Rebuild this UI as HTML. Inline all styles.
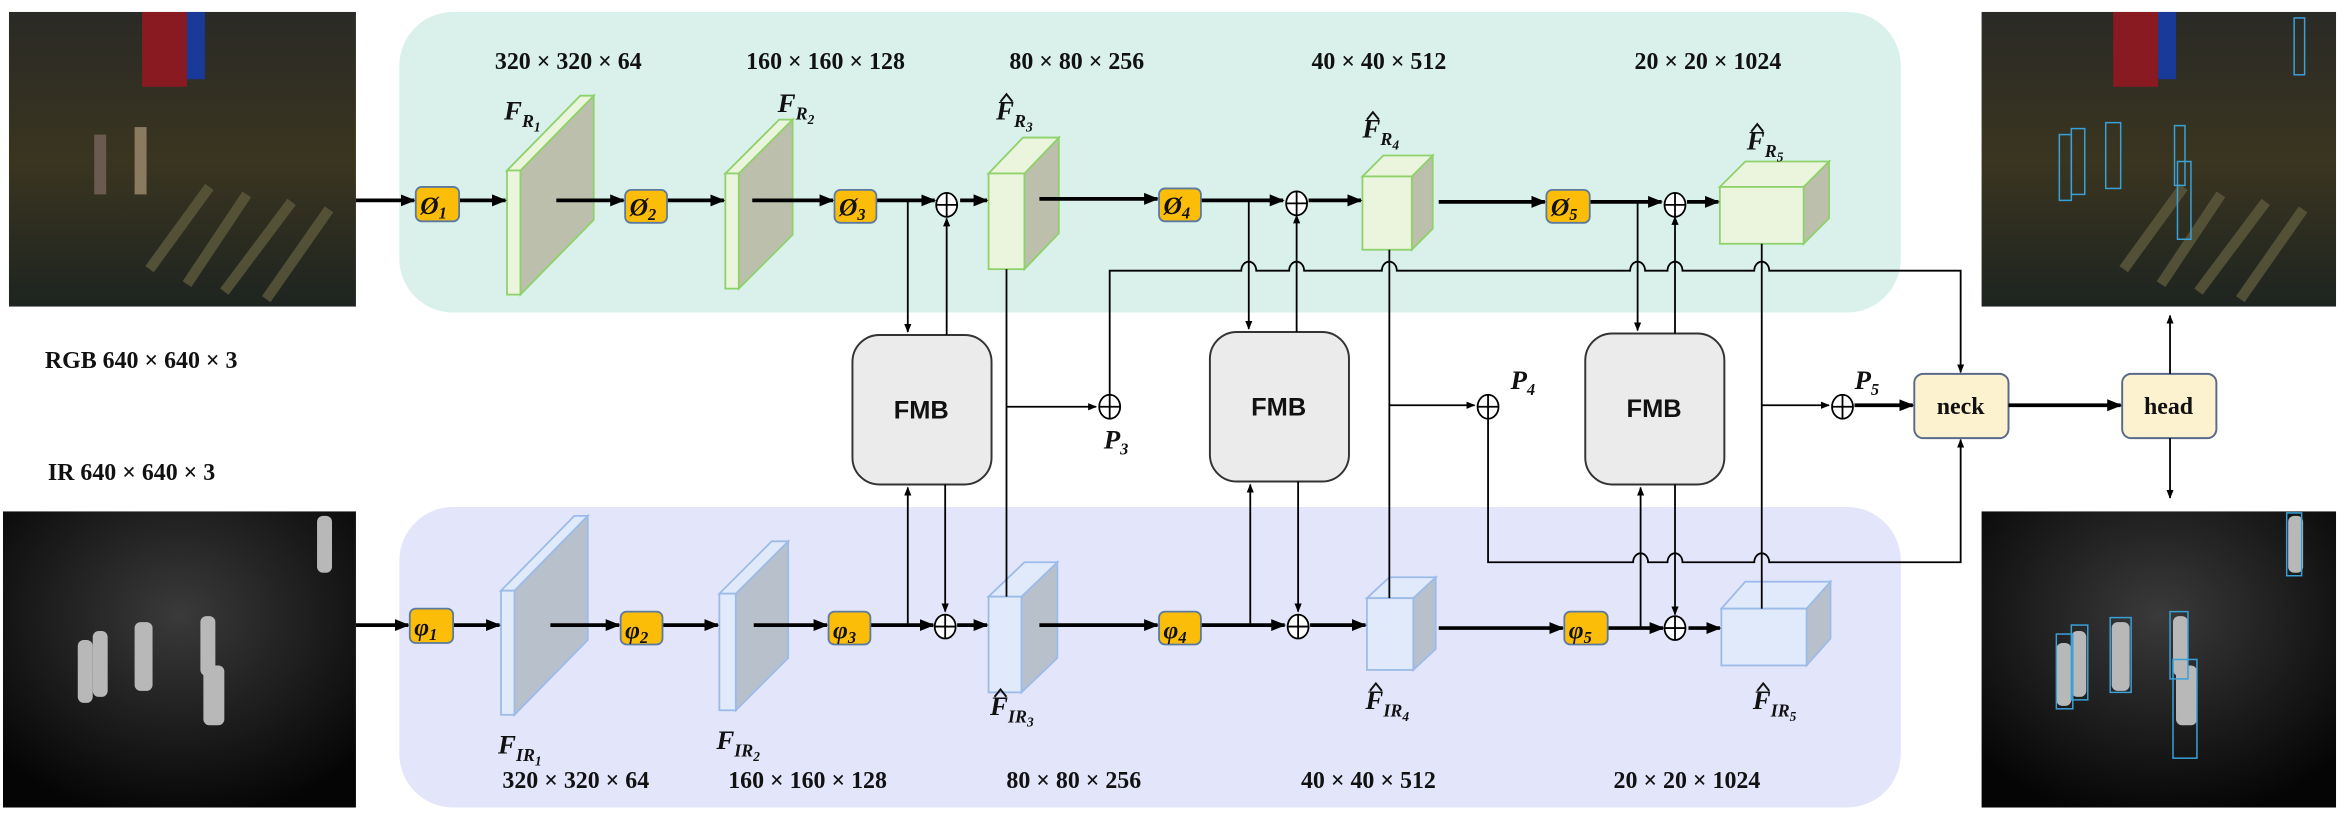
<!DOCTYPE html>
<html><head><meta charset="utf-8"><style>
html,body{margin:0;padding:0;background:#fff;}
svg{display:block;}
.t{font-family:"Liberation Serif",serif;font-weight:bold;font-size:16px;fill:#111;}
.i{font-family:"Liberation Serif",serif;font-weight:bold;font-style:italic;fill:#111;}
.f{font-family:"Liberation Sans",sans-serif;font-weight:bold;font-size:17px;fill:#111;}
</style></head><body>
<svg width="2345" height="828" viewBox="0 0 1568 553.7" preserveAspectRatio="none" xmlns="http://www.w3.org/2000/svg">
<defs>
<marker id="a" viewBox="0 0 10 10" refX="9" refY="5" markerWidth="5" markerHeight="5" orient="auto"><path d="M0,1 L10,5 L0,9 z" fill="#000"/></marker>
<marker id="b" viewBox="0 0 10 10" refX="9" refY="5" markerWidth="4" markerHeight="4" orient="auto"><path d="M0,1 L10,5 L0,9 z" fill="#000"/></marker>
<linearGradient id="rg" x1="0" y1="0" x2="0" y2="1"><stop offset="0" stop-color="#2a2a26"/><stop offset="0.5" stop-color="#3a3520"/><stop offset="1" stop-color="#1e2420"/></linearGradient>
<radialGradient id="ir" cx="0.5" cy="0.35" r="0.7"><stop offset="0" stop-color="#3a3a3a"/><stop offset="1" stop-color="#050505"/></radialGradient>
</defs>
<rect x="267" y="8" width="1004" height="201" rx="36" fill="#d9f1ea"/>
<rect x="267" y="339" width="1004" height="201" rx="36" fill="#e3e6fa"/>

<g>
<rect x="6" y="8" width="232" height="197" fill="url(#rg)"/>
<rect x="95" y="8" width="30" height="50" fill="#8a1a22"/><rect x="125" y="8" width="12" height="45" fill="#1a3a9a"/>
<g stroke="#5d5a3c" stroke-width="7" opacity="0.8"><line x1="100" y1="180" x2="140" y2="125"/><line x1="125" y1="190" x2="165" y2="130"/><line x1="150" y1="195" x2="195" y2="135"/><line x1="178" y1="200" x2="220" y2="140"/></g>
<rect x="63" y="90" width="8" height="40" fill="#6a5a50"/><rect x="90" y="85" width="8" height="45" fill="#8a7a60"/>
</g>
<g>
<rect x="1325" y="8" width="237" height="197" fill="url(#rg)"/>
<rect x="1413" y="8" width="30" height="50" fill="#8a1a22"/><rect x="1443" y="8" width="12" height="45" fill="#1a3a9a"/>
<g stroke="#5d5a3c" stroke-width="7" opacity="0.8"><line x1="1420" y1="180" x2="1460" y2="125"/><line x1="1445" y1="190" x2="1485" y2="130"/><line x1="1470" y1="195" x2="1515" y2="135"/><line x1="1498" y1="200" x2="1540" y2="140"/></g>
<g fill="none" stroke="#3aa0d8" stroke-width="1"><rect x="1377" y="90" width="8" height="44"/><rect x="1385" y="86" width="9" height="44"/><rect x="1408" y="82" width="10" height="44"/><rect x="1454" y="84" width="7" height="40"/><rect x="1456" y="108" width="9" height="52"/><rect x="1534" y="12" width="7" height="38"/></g>
</g>
<g>
<rect x="2" y="342" width="236" height="198" fill="url(#ir)"/>
<g fill="#b8b8b8"><rect x="52" y="428" width="10" height="42" rx="4"/><rect x="62" y="422" width="10" height="44" rx="4"/><rect x="90" y="416" width="12" height="46" rx="4"/><rect x="134" y="412" width="10" height="40" rx="4"/><rect x="136" y="445" width="14" height="40" rx="4"/><rect x="212" y="345" width="10" height="38" rx="4"/></g>
</g>
<g>
<rect x="1325" y="342" width="237" height="198" fill="url(#ir)"/>
<g fill="#b8b8b8"><rect x="1375" y="430" width="10" height="42" rx="4"/><rect x="1385" y="422" width="10" height="44" rx="4"/><rect x="1412" y="416" width="12" height="46" rx="4"/><rect x="1453" y="412" width="10" height="40" rx="4"/><rect x="1455" y="445" width="14" height="40" rx="4"/><rect x="1530" y="345" width="10" height="38" rx="4"/></g>
<g fill="none" stroke="#3aa0d8" stroke-width="1"><rect x="1375" y="424" width="11" height="50"/><rect x="1385" y="418" width="11" height="50"/><rect x="1411" y="413" width="14" height="50"/><rect x="1451" y="409" width="12" height="45"/><rect x="1453" y="441" width="16" height="66"/><rect x="1529" y="343" width="10" height="42"/></g>
</g>

<g stroke="#8fd16a" stroke-width="1.2">
<polygon points="348,114 397,64 397,147 348,197" fill="#bdbfad"/><polygon points="339,114 348,114 397,64 388,64" fill="#ebf5dd"/><rect x="339" y="114" width="9" height="83" fill="#ebf5dd"/>
<polygon points="494,116 530,80 530,157 494,193" fill="#bdbfad"/><polygon points="485,116 494,116 530,80 521,80" fill="#ebf5dd"/><rect x="485" y="116" width="9" height="77" fill="#ebf5dd"/>
<polygon points="685,116 708,92 708,156 685,180" fill="#bdbfad"/><polygon points="661,116 685,116 708,92 684,92" fill="#ebf5dd"/><rect x="661" y="116" width="24" height="64" fill="#ebf5dd"/>
<polygon points="944,118 958,104 958,153 944,167" fill="#bdbfad"/><polygon points="911,118 944,118 958,104 925,104" fill="#ebf5dd"/><rect x="911" y="118" width="33" height="49" fill="#ebf5dd"/>
<polygon points="1206,125 1223,108 1223,146 1206,163" fill="#bdbfad"/><polygon points="1150,125 1206,125 1223,108 1167,108" fill="#ebf5dd"/><rect x="1150" y="125" width="56" height="38" fill="#ebf5dd"/>
</g>
<g stroke="#9cbbe9" stroke-width="1.2">
<polygon points="344,395 393,345 393,428 344,478" fill="#b8c0cc"/><polygon points="335,395 344,395 393,345 384,345" fill="#e0eafb"/><rect x="335" y="395" width="9" height="83" fill="#e0eafb"/>
<polygon points="492,397 527,362 527,440 492,475" fill="#b8c0cc"/><polygon points="481,397 492,397 527,362 516,362" fill="#e0eafb"/><rect x="481" y="397" width="11" height="78" fill="#e0eafb"/>
<polygon points="683,399 707,376 707,440 683,463" fill="#b8c0cc"/><polygon points="661,399 683,399 707,376 685,376" fill="#e0eafb"/><rect x="661" y="399" width="22" height="64" fill="#e0eafb"/>
<polygon points="945,400 960,386 960,434 945,448" fill="#b8c0cc"/><polygon points="914,400 945,400 960,386 929,386" fill="#e0eafb"/><rect x="914" y="400" width="31" height="48" fill="#e0eafb"/>
<polygon points="1208,407 1224,389 1224,427 1208,445" fill="#b8c0cc"/><polygon points="1151,407 1208,407 1224,389 1167,389" fill="#e0eafb"/><rect x="1151" y="407" width="57" height="38" fill="#e0eafb"/>
</g>

<text class="t" x="30" y="246" font-size="18">RGB 640 × 640 × 3</text>
<text class="t" x="32" y="321" font-size="18">IR 640 × 640 × 3</text>
<g class="t" text-anchor="middle">
<text x="380" y="46">320 × 320 × 64</text><text x="552" y="46">160 × 160 × 128</text><text x="720" y="46">80 × 80 × 256</text><text x="922" y="46">40 × 40 × 512</text><text x="1142" y="46">20 × 20 × 1024</text>
<text x="385" y="527">320 × 320 × 64</text><text x="540" y="527">160 × 160 × 128</text><text x="718" y="527">80 × 80 × 256</text><text x="915" y="527">40 × 40 × 512</text><text x="1128" y="527">20 × 20 × 1024</text>
</g>
<g class="i" font-size="18">
<text x="337" y="80">F<tspan font-size="12" dy="5">R<tspan font-size="9" dy="3">1</tspan></tspan></text>
<text x="520" y="75">F<tspan font-size="12" dy="5">R<tspan font-size="9" dy="3">2</tspan></tspan></text>
<text x="666" y="80">F<tspan font-size="12" dy="5">R<tspan font-size="9" dy="3">3</tspan></tspan></text>
<text x="911" y="92">F<tspan font-size="12" dy="5">R<tspan font-size="9" dy="3">4</tspan></tspan></text>
<text x="1168" y="100">F<tspan font-size="12" dy="5">R<tspan font-size="9" dy="3">5</tspan></tspan></text>
<text x="333" y="504">F<tspan font-size="12" dy="5">IR<tspan font-size="9" dy="3">1</tspan></tspan></text>
<text x="479" y="501">F<tspan font-size="12" dy="5">IR<tspan font-size="9" dy="3">2</tspan></tspan></text>
<text x="662" y="478">F<tspan font-size="12" dy="5">IR<tspan font-size="9" dy="3">3</tspan></tspan></text>
<text x="913" y="474">F<tspan font-size="12" dy="5">IR<tspan font-size="9" dy="3">4</tspan></tspan></text>
<text x="1172" y="474">F<tspan font-size="12" dy="5">IR<tspan font-size="9" dy="3">5</tspan></tspan></text>
<text x="738" y="300">P<tspan font-size="11" dy="4">3</tspan></text>
<text x="1010" y="260">P<tspan font-size="11" dy="4">4</tspan></text>
<text x="1240" y="260">P<tspan font-size="11" dy="4">5</tspan></text>
</g>
<g stroke="#111" stroke-width="1.3" fill="none">
<path d="M669 68 L673 63 L677 68"/><path d="M914 80 L918 75 L922 80"/><path d="M1171 88 L1175 83 L1179 88"/>
<path d="M665 466 L669 461 L673 466"/><path d="M916 462 L920 457 L924 462"/><path d="M1175 462 L1179 457 L1183 462"/>
</g>

<g stroke="#333" stroke-width="1.3" fill="#ebebeb">
<rect x="570" y="224" width="93" height="100" rx="18"/>
<rect x="809" y="222" width="93" height="100" rx="18"/>
<rect x="1060" y="223" width="93" height="101" rx="18"/>
</g>
<g class="f" text-anchor="middle"><text x="616" y="280">FMB</text><text x="855" y="278">FMB</text><text x="1106" y="279">FMB</text></g>
<g stroke="#5a6a8a" stroke-width="1.3" fill="#fdf2d0">
<rect x="1280" y="250" width="63" height="43" rx="6"/><rect x="1419" y="250" width="63" height="43" rx="6"/>
</g>
<g class="t" text-anchor="middle" font-size="17"><text x="1311" y="277">neck</text><text x="1450" y="277">head</text></g>

<g stroke="#000" stroke-width="2.5" fill="none" marker-end="url(#b)">
<line x1="238" y1="134" x2="277" y2="134"/><line x1="307" y1="134" x2="338" y2="134"/><line x1="372" y1="134" x2="417" y2="134"/>
<line x1="446" y1="134" x2="484" y2="134"/><line x1="503" y1="134" x2="557" y2="134"/>
<line x1="586" y1="134" x2="625" y2="134"/><line x1="642" y1="134" x2="660" y2="134"/>
<line x1="695" y1="133" x2="774" y2="133"/><line x1="803" y1="134" x2="858" y2="134"/><line x1="875" y1="134" x2="910" y2="134"/>
<line x1="962" y1="135" x2="1033" y2="135"/><line x1="1063" y1="135" x2="1111" y2="135"/><line x1="1128" y1="135" x2="1149" y2="135"/>
<line x1="238" y1="418" x2="273" y2="418"/><line x1="303" y1="418" x2="334" y2="418"/><line x1="368" y1="418" x2="414" y2="418"/>
<line x1="443" y1="418" x2="480" y2="418"/><line x1="504" y1="418" x2="553" y2="418"/>
<line x1="582" y1="418" x2="624" y2="418"/><line x1="640" y1="418" x2="660" y2="418"/>
<line x1="695" y1="418" x2="774" y2="418"/><line x1="803" y1="418" x2="859" y2="418"/><line x1="876" y1="418" x2="913" y2="418"/>
<line x1="962" y1="420" x2="1045" y2="420"/><line x1="1075" y1="420" x2="1112" y2="420"/><line x1="1129" y1="420" x2="1150" y2="420"/>
<line x1="1343" y1="271" x2="1418" y2="271"/><line x1="1240" y1="271" x2="1279" y2="271"/>
</g>

<g stroke="#5a7aa0" stroke-width="1.2" fill="#fbbd08">
<rect x="278" y="125" width="29" height="23" rx="4"/><rect x="418" y="127" width="28" height="22" rx="4"/><rect x="558" y="127" width="28" height="22" rx="4"/><rect x="775" y="126" width="28" height="22" rx="4"/><rect x="1034" y="127" width="29" height="22" rx="4"/>
<rect x="274" y="407" width="29" height="23" rx="4"/><rect x="415" y="409" width="28" height="22" rx="4"/><rect x="554" y="409" width="28" height="22" rx="4"/><rect x="775" y="409" width="28" height="22" rx="4"/><rect x="1046" y="409" width="29" height="22" rx="4"/>
</g>
<g class="i" font-size="17">
<text x="281" y="143">Ø<tspan font-size="11" dy="3">1</tspan></text><text x="421" y="144">Ø<tspan font-size="11" dy="3">2</tspan></text><text x="561" y="144">Ø<tspan font-size="11" dy="3">3</tspan></text><text x="778" y="143">Ø<tspan font-size="11" dy="3">4</tspan></text><text x="1037" y="144">Ø<tspan font-size="11" dy="3">5</tspan></text>
<text x="277" y="425">φ<tspan font-size="11" dy="3">1</tspan></text><text x="418" y="427">φ<tspan font-size="11" dy="3">2</tspan></text><text x="557" y="427">φ<tspan font-size="11" dy="3">3</tspan></text><text x="778" y="427">φ<tspan font-size="11" dy="3">4</tspan></text><text x="1049" y="427">φ<tspan font-size="11" dy="3">5</tspan></text>
</g>

<g stroke="#000" stroke-width="1.2" fill="none">
<line x1="607" y1="134" x2="607" y2="222" marker-end="url(#a)"/>
<line x1="633" y1="224" x2="633" y2="146" marker-end="url(#a)"/>
<line x1="607" y1="418" x2="607" y2="326" marker-end="url(#a)"/>
<line x1="632" y1="324" x2="632" y2="409" marker-end="url(#a)"/>
<line x1="835" y1="134" x2="835" y2="220" marker-end="url(#a)"/>
<line x1="867" y1="222" x2="867" y2="144" marker-end="url(#a)"/>
<line x1="836" y1="418" x2="836" y2="324" marker-end="url(#a)"/>
<line x1="868" y1="322" x2="868" y2="409" marker-end="url(#a)"/>
<line x1="1095" y1="135" x2="1095" y2="221" marker-end="url(#a)"/>
<line x1="1120" y1="223" x2="1120" y2="145" marker-end="url(#a)"/>
<line x1="1097" y1="420" x2="1097" y2="326" marker-end="url(#a)"/>
<line x1="1120" y1="324" x2="1120" y2="411" marker-end="url(#a)"/>
<line x1="673" y1="180" x2="673" y2="399"/>
<line x1="673" y1="272" x2="733" y2="272" marker-end="url(#a)"/>
<line x1="929" y1="167" x2="929" y2="400"/>
<line x1="929" y1="271" x2="986" y2="271" marker-end="url(#a)"/>
<line x1="1178" y1="163" x2="1178" y2="407"/>
<line x1="1178" y1="271" x2="1223" y2="271" marker-end="url(#a)"/>
<path d="M742 264 L742 181 L830 181 A5 6 0 0 1 840 181 L862 181 A5 6 0 0 1 872 181 L924 181 A5 6 0 0 1 934 181 L1090 181 A5 6 0 0 1 1100 181 L1115 181 A5 6 0 0 1 1125 181 L1173 181 A5 6 0 0 1 1183 181 L1311 181 L1311 249" marker-end="url(#a)"/>
<path d="M995 280 L995 376 L1092 376 A5 6 0 0 1 1102 376 L1115 376 A5 6 0 0 1 1125 376 L1173 376 A5 6 0 0 1 1183 376 L1311 376 L1311 294" marker-end="url(#a)"/>
<line x1="1451" y1="250" x2="1451" y2="211" marker-end="url(#a)"/>
<line x1="1451" y1="293" x2="1451" y2="333" marker-end="url(#a)"/>
</g>

<g stroke="#000" stroke-width="1.2" fill="#fff">
<g><ellipse cx="633" cy="137" rx="7" ry="8"/><path d="M626 137 H640 M633 129 V145"/></g>
<g><ellipse cx="867" cy="136" rx="7" ry="8"/><path d="M860 136 H874 M867 128 V144"/></g>
<g><ellipse cx="1120" cy="137" rx="7" ry="8"/><path d="M1113 137 H1127 M1120 129 V145"/></g>
<g><ellipse cx="632" cy="419" rx="7" ry="8"/><path d="M625 419 H639 M632 411 V427"/></g>
<g><ellipse cx="868" cy="419" rx="7" ry="8"/><path d="M861 419 H875 M868 411 V427"/></g>
<g><ellipse cx="1120" cy="420" rx="7" ry="8"/><path d="M1113 420 H1127 M1120 412 V428"/></g>
<g><ellipse cx="742" cy="272" rx="7" ry="8"/><path d="M735 272 H749 M742 264 V280"/></g>
<g><ellipse cx="995" cy="272" rx="7" ry="8"/><path d="M988 272 H1002 M995 264 V280"/></g>
<g><ellipse cx="1232" cy="272" rx="7" ry="8"/><path d="M1225 272 H1239 M1232 264 V280"/></g>
</g>
</svg>
</body></html>
